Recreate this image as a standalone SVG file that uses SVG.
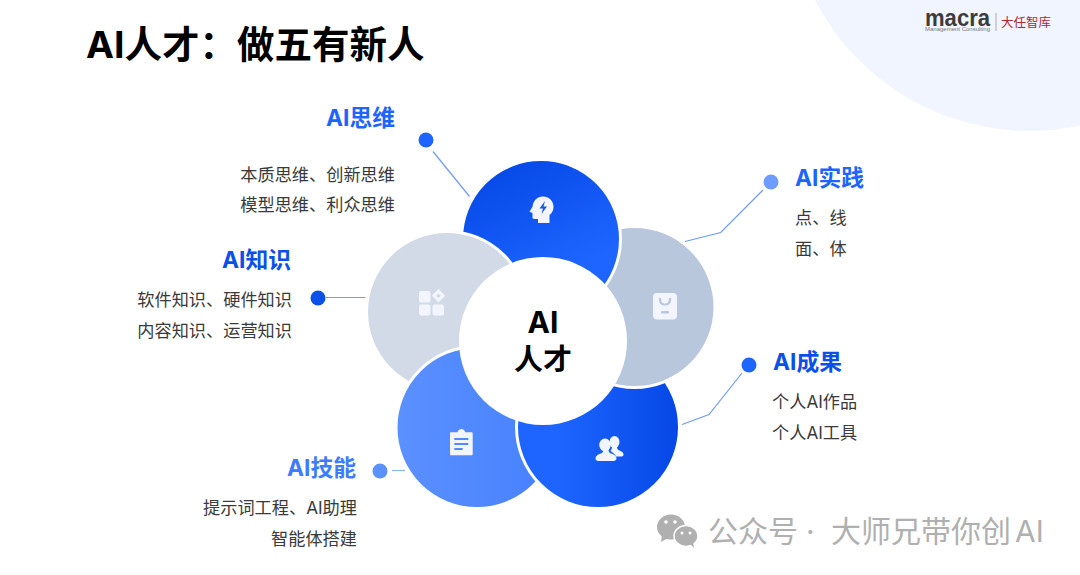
<svg xmlns="http://www.w3.org/2000/svg" width="1080" height="575" viewBox="0 0 1080 575">
<style>
text{font-family:Inter,"Noto Sans CJK SC","Liberation Sans",sans-serif}
.h{font-size:22.8px;font-weight:700}
.b{font-size:17.2px;fill:#3a3a3a}
.l{fill:none;stroke-width:1.2}
.p{stroke:#fff;stroke-width:3}
.ic{fill:#f2f5fd}
</style>
<defs>
<linearGradient id="gt" x1="0.2" y1="0" x2="0.7" y2="1"><stop offset="0" stop-color="#0447e6"/><stop offset="0.75" stop-color="#1e65ff"/></linearGradient>
<linearGradient id="gbr" x1="0.25" y1="0" x2="1" y2="0"><stop offset="0" stop-color="#1e65ff"/><stop offset="1" stop-color="#0447e6"/></linearGradient>
<linearGradient id="gbl" x1="0" y1="0" x2="1" y2="0"><stop offset="0" stop-color="#5b90ff"/><stop offset="1" stop-color="#4580ff"/></linearGradient>
<clipPath id="cr"><rect x="565" y="150" width="80" height="140"/></clipPath>
</defs>
<rect width="1080" height="575" fill="#fff"/>
<circle cx="1030" cy="-111" r="242" fill="#f1f5ff"/>
<g id="logo">
<text x="925" y="26" font-size="24" font-weight="700" fill="#3c3c3c" textLength="65" lengthAdjust="spacingAndGlyphs" style="font-family:'Liberation Sans',sans-serif">macra</text>
<text x="925" y="31" font-size="6" fill="#777" textLength="65" lengthAdjust="spacingAndGlyphs" style="font-family:'Liberation Sans',sans-serif">Management Consulting</text>
<line x1="996" y1="13" x2="996" y2="31" stroke="#aaa" stroke-width="1"/>
<text x="1001" y="27" font-size="12.5" fill="#b3262c">大任智库</text>
</g>
<text id="title" x="86" y="58" font-size="37.500" font-weight="700" fill="#000">AI人才：做五有新人</text>
<g id="connectors" class="l">
<polyline class="l" points="433,151.500 469.500,196.500" stroke="#6d9bff"/>
<polyline class="l" points="685,241.500 720.700,232.500 763,190" stroke="#6d9bff"/>
<polyline class="l" points="682,424.500 709,414.500 742,373" stroke="#6d9bff"/>
<polyline class="l" points="326,297.500 365.500,297.500" stroke="#6d9bff"/>
<polyline class="l" points="392,470.500 405,470.500" stroke="#8fb2ff"/>
</g>
<g id="petal-top"><circle class="p" cx="541" cy="239" r="79.500" fill="url(#gt)"/></g>
<g id="petal-knowledge"><circle class="p" cx="447" cy="312" r="80.500" fill="#d2dae7"/></g>
<g id="petal-skill"><circle class="p" cx="477" cy="427.500" r="81" fill="url(#gbl)"/></g>
<g id="petal-result"><circle class="p" cx="598" cy="427" r="81.500" fill="url(#gbr)"/></g>
<g id="petal-practice"><circle class="p" cx="634.500" cy="307" r="80.500" fill="#b8c7dc"/></g>
<g id="petal-top-over" clip-path="url(#cr)"><circle class="p" cx="541" cy="239" r="79.500" fill="url(#gt)"/></g>
<g id="center"><circle cx="543" cy="341" r="84" fill="#fff"/>
<text x="543" y="333" font-size="30" font-weight="700" text-anchor="middle" fill="#000">AI</text>
<text x="543" y="370" font-size="29" font-weight="700" text-anchor="middle" fill="#000">人才</text></g>
<g id="node-thinking">
<circle cx="426" cy="140" r="7.500" fill="#1e65ff"/>
<text class="h" x="395" y="126" text-anchor="end" fill="#1e65ff">AI思维</text>
<text class="b" x="395" y="181" text-anchor="end">本质思维、创新思维</text>
<text class="b" x="395" y="211" text-anchor="end">模型思维、利众思维</text>
<path class="ic" d="M543 196.500c6 0 10.500 4.500 10.500 10.500 0 3.500-1.500 6-4 8v8h-11.500v-4h-4c-1 0-1.500-.7-1.500-1.700v-4.300l-3-1.200 3-5c.5-6 4.500-10.300 10.500-10.300z"/>
<path d="M545 201l-5.500 7.500h3.500l-1.500 5.500 5.500-7.500h-3.500z" fill="#1257f0"/>
</g>
<g id="node-knowledge">
<circle cx="318" cy="298" r="7.500" fill="#0b50e8"/>
<text class="h" x="291" y="268" text-anchor="end" fill="#0b50e8">AI知识</text>
<text class="b" x="292" y="306" text-anchor="end">软件知识、硬件知识</text>
<text class="b" x="292" y="337" text-anchor="end">内容知识、运营知识</text>
<rect class="ic" x="419" y="291" width="11.500" height="11.500" rx="2"/>
<rect class="ic" x="419" y="304.500" width="11.500" height="11" rx="2"/>
<rect class="ic" x="432.500" y="304.500" width="11.500" height="11" rx="2"/>
<path class="ic" fill-rule="evenodd" d="M438.500 289l6.700 6.700-6.700 6.700-6.700-6.700zM438.500 293.500l-2.200 2.200 2.200 2.200 2.200-2.200z"/>
</g>
<g id="node-practice">
<circle cx="771" cy="182" r="7.500" fill="#6d9bff"/>
<text class="h" x="795" y="186" fill="#1e65ff">AI实践</text>
<text class="b" x="795" y="224">点、线</text>
<text class="b" x="795" y="255">面、体</text>
<rect class="ic" x="653" y="293" width="24" height="26.500" rx="4"/>
<path d="M660 298v1.500c0 3.200 2 5 5 5s5-1.800 5-5V298" fill="none" stroke="#b8c7dc" stroke-width="2.200"/>
<rect x="661" y="311" width="8" height="2.600" rx="1" fill="#b8c7dc"/>
</g>
<g id="node-result">
<circle cx="749" cy="365" r="7.500" fill="#1e65ff"/>
<text class="h" x="773" y="370" fill="#0b50e8">AI成果</text>
<text class="b" x="772" y="408">个人AI作品</text>
<text class="b" x="772" y="439">个人AI工具</text>
<ellipse class="ic" cx="614.500" cy="442" rx="5" ry="6"/>
<path class="ic" d="M612 447h5c0 2 1 3 3.500 4 2 .8 3 2 3 3.500 0 1.500-1 2-2.500 2h-5c-1-2.500-3-4-5.500-5.500 1-1.500 1.500-3 1.500-4z"/>
<ellipse class="ic" cx="605" cy="445" rx="5.800" ry="6.500"/>
<path class="ic" d="M601.500 450h7c0 2 1.200 3 4 4 2.500 1 4 2.500 4 4.500 0 1.500-1.300 2.500-3 2.500h-15c-1.700 0-3-1-3-2.500 0-2 1.500-3.500 4-4.500 2.800-1 4-2 4-4z"/>
</g>
<g id="node-skill">
<circle cx="380" cy="471" r="7.500" fill="#5b90ff"/>
<text class="h" x="356" y="476" text-anchor="end" fill="#3d7bff">AI技能</text>
<text class="b" x="357" y="514" text-anchor="end">提示词工程、AI助理</text>
<text class="b" x="357" y="545" text-anchor="end">智能体搭建</text>
<path class="ic" fill-rule="evenodd" d="M451 432.300h6.500c.5-2 1.900-3.300 3.900-3.300s3.400 1.300 3.900 3.300h6.400c.5 0 1 .5 1 1v21c0 .5-.5 1-1 1h-20.700c-.5 0-1-.5-1-1v-21c0-.5.5-1 1-1zM454.300 438v2h14v-2zM454.300 443v2h14v-2zM454.300 448v2h8.400v-2z"/>
</g>
<g id="watermark">
<g fill="#b0b0b0">
<ellipse cx="671" cy="527" rx="14" ry="12.500"/>
<path d="M662 535l-1 7 7-4z"/>
<ellipse cx="686" cy="536" rx="12" ry="10.500" stroke="#fff" stroke-width="1.500"/>
<path d="M690 544l4 4-1-7z"/>
</g>
<g fill="#fff"><circle cx="666" cy="522" r="1.800"/><circle cx="675" cy="522" r="1.800"/><circle cx="682" cy="533" r="1.500"/><circle cx="690" cy="533" r="1.500"/></g>
<text y="542" font-size="30" fill="#b0b0b0"><tspan x="708">公众号</tspan><tspan x="806">·</tspan><tspan x="831">大师兄带你创</tspan><tspan x="1015">AI</tspan></text>
</g>
</svg>
